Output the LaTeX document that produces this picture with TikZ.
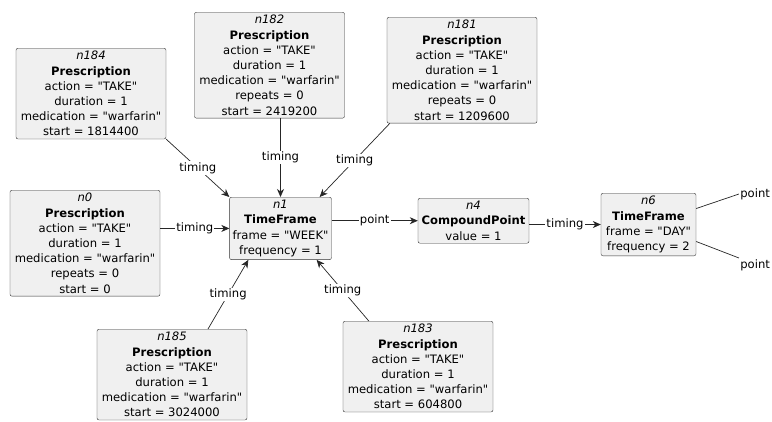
\documentclass[tikz,border=0pt]{standalone}
\usepackage{fontspec}
\setmainfont{DejaVu Sans}
\usetikzlibrary{arrows.meta}
\newcommand{\qv}[1]{\textquotedbl#1\textquotedbl}

\begin{document}
\begin{tikzpicture}[x=1pt,y=-1pt,
  box/.style={draw=black!80,fill=black!6,rounded corners=2pt,align=center,
    inner sep=3pt,anchor=north,font=\fontsize{11.6}{15.2}\selectfont},
  presc/.style={box,minimum width=150pt},
  rel/.style={draw=black!85,line width=0.7pt},
  arr/.style={rel,-{Stealth[length=8pt,width=7pt,inset=2.5pt]}},
  lbl/.style={fill=white,inner sep=1pt,font=\fontsize{11.6}{14}\selectfont}]
  \useasboundingbox (0,0) rectangle (772,421);
  % prescriptions round the week frame
  \node[presc] (n184) at (91,48) {\textit{n184}\\\textbf{Prescription}\\action = \qv{TAKE}\\duration = 1\\medication = \qv{warfarin}\\start = 1814400};
  \node[presc] (n182) at (269.5,12) {\textit{n182}\\\textbf{Prescription}\\action = \qv{TAKE}\\duration = 1\\medication = \qv{warfarin}\\repeats = 0\\start = 2419200};
  \node[presc] (n181) at (462,17) {\textit{n181}\\\textbf{Prescription}\\action = \qv{TAKE}\\duration = 1\\medication = \qv{warfarin}\\repeats = 0\\start = 1209600};
  \node[presc] (n0) at (85,190) {\textit{n0}\\\textbf{Prescription}\\action = \qv{TAKE}\\duration = 1\\medication = \qv{warfarin}\\repeats = 0\\start = 0};
  \node[presc] (n185) at (172,329) {\textit{n185}\\\textbf{Prescription}\\action = \qv{TAKE}\\duration = 1\\medication = \qv{warfarin}\\start = 3024000};
  \node[presc] (n183) at (418,321) {\textit{n183}\\\textbf{Prescription}\\action = \qv{TAKE}\\duration = 1\\medication = \qv{warfarin}\\start = 604800};
  % frames and point
  \node[box,minimum width=99pt] (n1) at (280.5,197) {\textit{n1}\\\textbf{TimeFrame}\\frame = \qv{WEEK}\\frequency = 1};
  \node[box,minimum width=111pt] (n4) at (473.5,198) {\textit{n4}\\\textbf{CompoundPoint}\\value = 1};
  \node[box,minimum width=95pt] (n6) at (648.5,193) {\textit{n6}\\\textbf{TimeFrame}\\frame = \qv{DAY}\\frequency = 2};
  % timing links
  \draw[arr] (n184.south east) -- node[lbl] (t184) {timing} (n1.north west);
  \draw[arr] (n1.north |- n182.south) -- node[lbl] (t182) {timing} (n1.north);
  \draw[arr] ([xshift=3pt]n181.south west) -- node[lbl] (t181) {timing} ([xshift=-12pt]n1.north east);
  \draw[arr] (n0.east |- n1.west) -- node[lbl] (t0) {timing} (n1.west);
  \draw[arr] ([xshift=36pt]n185.north) -- node[lbl] (t185) {timing} ([xshift=19pt]n1.south west);
  \draw[arr] ([xshift=26pt]n183.north west) -- node[lbl] (t183) {timing} ([xshift=-15pt]n1.south east);
  \draw[arr] (n1.east |- n4.west) -- node[lbl] (p14) {point} (n4.west);
  \draw[arr] (n4.east |- n6.west) -- node[lbl] (t46) {timing} (n6.west);
  % open ends
  \coordinate (e1) at (739,194);
  \coordinate (e2) at (739,258);
  \draw[rel] ([yshift=16pt]n6.east) -- (e1) node[lbl,anchor=west] (p61) {point};
  \draw[rel] ([yshift=-17pt]n6.east) -- (e2) node[lbl,anchor=north west] (p62) {point};
\end{tikzpicture}
\end{document}
